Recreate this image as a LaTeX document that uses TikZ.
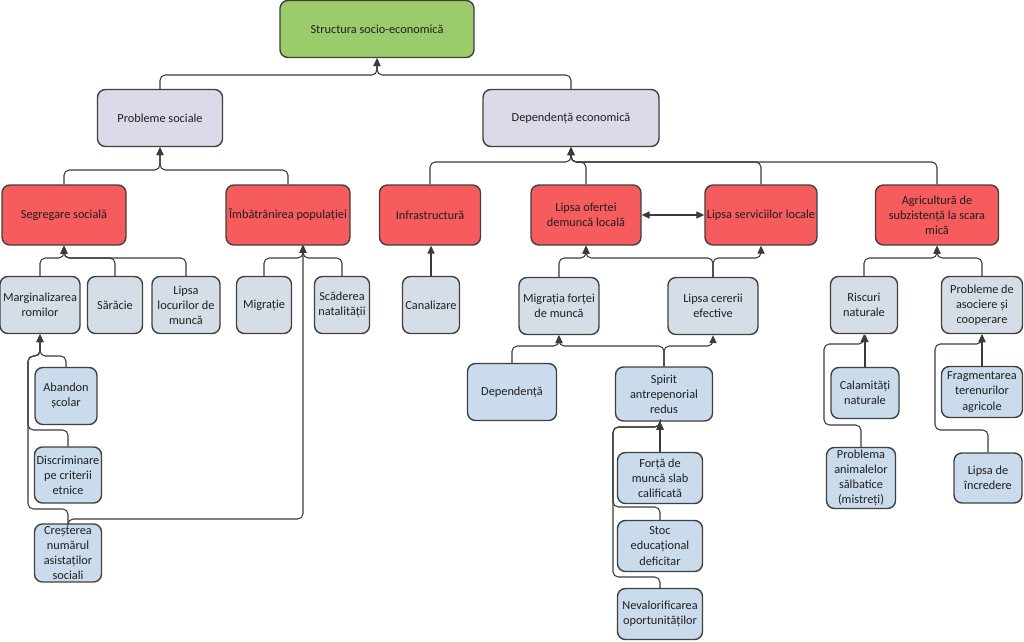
\documentclass[tikz,border=0pt]{standalone}
\usepackage{fontspec}
\setmainfont{Carlito}
\usetikzlibrary{arrows.meta}
\definecolor{boxline}{HTML}{404040}
\definecolor{linkgrey}{HTML}{3A3A3A}
\definecolor{boxgreen}{HTML}{9CCB6B}
\definecolor{boxlilac}{HTML}{DCD9E9}
\definecolor{boxred}{HTML}{F65B5E}
\definecolor{boxgrey}{HTML}{D5DEE7}
\definecolor{boxblue}{HTML}{CADBEC}
\tikzset{
  box/.style={draw=boxline, line width=0.8pt, rounded corners=4.5pt, align=center,
    inner sep=1pt, text=black!88, font=\fontsize{7}{8.6}\selectfont},
  wh/.style 2 args={minimum width=#1*0.02cm, minimum height=#2*0.02cm},
  rootbox/.style={box, fill=boxgreen},
  mainbox/.style={box, fill=boxlilac},
  causebox/.style={box, fill=boxred},
  subbox/.style={box, fill=boxgrey},
  leafbox/.style={box, fill=boxblue},
  link/.style={draw=linkgrey, line width=0.6pt, rounded corners=3pt,
    -{Triangle[length=4.5pt,width=4pt]}},
  twoway/.style={draw=linkgrey, line width=0.6pt,
    {Triangle[length=4.5pt,width=4pt]}-{Triangle[length=4.5pt,width=4pt]}}
}
\begin{document}
\begin{tikzpicture}[x=0.02cm, y=-0.02cm]
\useasboundingbox (0,0) rectangle (1024,642);
\node[rootbox, wh={194}{57}] (top) at (377,29) {Structura socio-economică};
\node[mainbox, wh={125}{57}] (ps) at (160,118) {Probleme sociale};
\node[mainbox, wh={176}{57}] (de) at (571,118) {Dependență economică};
\node[causebox, wh={124}{60}] (seg) at (64,215) {Segregare socială};
\node[causebox, wh={124}{60}] (imb) at (288,215) {Îmbătrânirea populației};
\node[causebox, wh={101}{60}] (inf) at (430,215) {Infrastructură};
\node[causebox, wh={110}{60}] (lof) at (586,215) {Lipsa ofertei\\demuncă locală};
\node[causebox, wh={112}{60}] (lsv) at (761,215) {Lipsa serviciilor locale};
\node[causebox, wh={123}{60}] (agr) at (937,215) {Agricultură de\\subzistență la scara\\mică};
\node[subbox, wh={80}{57}] (mar) at (40,305) {Marginalizarea\\romilor};
\node[subbox, wh={55}{57}] (sar) at (115,305) {Sărăcie};
\node[subbox, wh={68}{57}] (llm) at (186,305) {Lipsa\\locurilor de\\muncă};
\node[subbox, wh={55}{57}] (mig) at (264,305) {Migrație};
\node[subbox, wh={55}{57}] (scn) at (342,305) {Scăderea\\natalității};
\node[subbox, wh={57}{57}] (can) at (431,305) {Canalizare};
\node[subbox, wh={80}{57}] (mfm) at (559,306) {Migrația forței\\de muncă};
\node[subbox, wh={90}{57}] (lce) at (713,306) {Lipsa cererii\\efective};
\node[subbox, wh={67}{57}] (ris) at (864,305) {Riscuri\\naturale};
\node[subbox, wh={81}{57}] (pac) at (982,305) {Probleme de\\asociere și\\cooperare};
\node[leafbox, wh={62}{57}] (aba) at (66,396) {Abandon\\școlar};
\node[leafbox, wh={67}{56}] (dis) at (68,475) {Discriminare\\pe criterii\\etnice};
\node[leafbox, wh={67}{58}] (cre) at (68,553) {Creșterea\\numărul\\asistaților\\sociali};
\node[leafbox, wh={89}{57}] (dep) at (512,392) {Dependență};
\node[leafbox, wh={97}{54}] (spi) at (664,394) {Spirit\\antrepenorial\\redus};
\node[leafbox, wh={85}{51}] (fmc) at (660,478) {Forță de\\muncă slab\\calificată};
\node[leafbox, wh={85}{51}] (sed) at (660,546) {Stoc\\educațional\\deficitar};
\node[leafbox, wh={85}{51}] (nev) at (660,614) {Nevalorificarea\\oportunităților};
\node[leafbox, wh={68}{51}] (cal) at (865,393) {Calamități\\naturale};
\node[leafbox, wh={69}{61}] (pan) at (861,478) {Problema\\animalelor\\sălbatice\\(mistreți)};
\node[leafbox, wh={81}{51}] (fta) at (982,392) {Fragmentarea\\terenurilor\\agricole};
\node[leafbox, wh={68}{50}] (lin) at (988,478) {Lipsa de\\încredere};
\coordinate (imbin) at (303,245);
\foreach \child in {ps,de}
  \draw[link] (\child.north) |- (top.south |- 0,75) -- (top.south);
\foreach \child in {seg,imb}
  \draw[link] (\child.north) |- (ps.south |- 0,170) -- (ps.south);
\foreach \child in {inf,lof,lsv,agr}
  \draw[link] (\child.north) |- (de.south |- 0,162) -- (de.south);
\draw[twoway] (lof.east) -- (lsv.west);
\foreach \child in {mar,sar,llm}
  \draw[link] (\child.north) |- (seg.south |- 0,258) -- (seg.south);
\foreach \child in {mig,scn}
  \draw[link] (\child.north) |- (imbin |- 0,258) -- (imbin);
\draw[link] (can.north) -- (can.north |- inf.south);
\foreach \child in {mfm,lce}
  \draw[link] (\child.north) |- (lof.south |- 0,258) -- (lof.south);
\draw[link] (lce.north) |- (lsv.south |- 0,258) -- (lsv.south);
\foreach \child in {ris,pac}
  \draw[link] (\child.north) |- (agr.south |- 0,258) -- (agr.south);
\draw[link] (aba.north) |- (mar.south |- 0,356) -- (mar.south);
\draw[link] (dis.north) |- (28,430) |- (mar.south |- 0,356) -- (mar.south);
\draw[link] (cre.north) |- (28,509) |- (mar.south |- 0,356) -- (mar.south);
\draw[link] (cre.north) |- (imbin |- 0,519) -- (imbin);
\foreach \child in {dep,spi}
  \draw[link] (\child.north) |- (mfm.south |- 0,346) -- (mfm.south);
\draw[link] (spi.north) |- (lce.south |- 0,346) -- (lce.south);
\draw[link] (fmc.north) -- (fmc.north |- spi.south);
\draw[link] (sed.north) |- (613,507) |- (fmc.north |- 0,427) -- (fmc.north |- spi.south);
\draw[link] (nev.north) |- (613,577) |- (fmc.north |- 0,427) -- (fmc.north |- spi.south);
\draw[link] (cal.north) -- (cal.north |- ris.south);
\draw[link] (pan.north) |- (824,425) |- (ris.south |- 0,344) -- (ris.south);
\draw[link] (fta.north) -- (fta.north |- pac.south);
\draw[link] (lin.north) |- (935,430) |- (pac.south |- 0,344) -- (pac.south);
\end{tikzpicture}
\end{document}
